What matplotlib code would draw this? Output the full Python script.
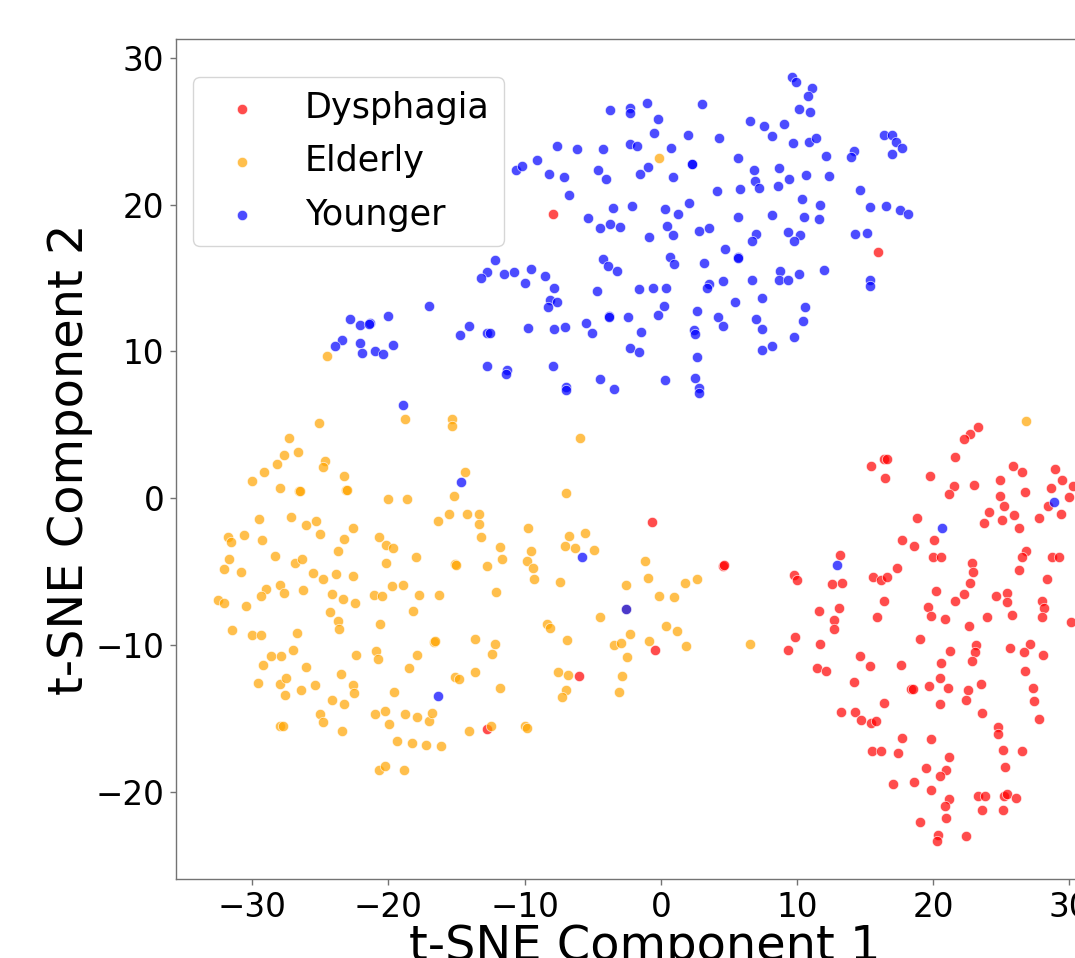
import matplotlib
matplotlib.use("Agg")
import matplotlib.pyplot as plt
import numpy as np

# ---------------- data (t-SNE coordinates) ----------------
dys_x = [-7.95, 15.93, -0.66, 4.55, 4.65, -0.42, -6.00, -12.80,
         23.32, 22.69, 22.22, 21.63, 15.44, 16.37, 16.62, 16.45, 19.75, 21.49, 21.12, 23.01,
         25.84, 26.51, 24.87, 28.95, 29.47, 30.25, 28.61, 26.75, 24.87, 25.18, 30.00, 28.41,
         29.37, 18.82, 24.08, 25.94, 23.69, 25.06, 26.26, 27.73, 17.74, 18.58, 20.09, 19.97,
         20.58, 13.17, 26.82, 26.53, 28.73, 29.20, 26.26, 28.34, 22.86, 22.91, 22.66, 22.27,
         21.63, 20.17, 19.63, 19.80, 20.88, 22.59, 23.91, 25.80, 9.79, 10.01, 12.56, 13.29,
         15.54, 16.13, 16.62, 17.35, 24.62, 25.40, 25.40, 27.97, 28.12, 28.00, 30.13, 11.58,
         13.07, 12.68, 12.70, 16.40, 15.88,
         9.86, 9.35, 11.67, 19.02, 23.15, 23.08, 21.22, 20.58, 22.83, 25.67, 27.09, 26.68,
         28.02, 26.73, 14.59, 15.37, 17.65, 11.45, 12.09, 14.17, 20.48, 19.70, 21.05, 18.33,
         18.53, 22.54, 23.52, 22.39, 27.31, 27.41, 27.75, 20.48, 16.35, 13.19, 14.27, 14.66,
         15.44, 15.83, 23.57, 24.77, 24.77, 17.74, 19.82, 15.49, 16.18, 17.43, 25.13, 26.55,
         21.15, 19.43, 20.93, 20.53, 25.28, 17.01, 18.58, 19.82, 21.15, 20.83, 23.32, 23.81,
         25.16, 25.38, 26.06, 23.57, 25.09, 20.93, 19.04, 20.36, 20.31, 22.37]
dys_y = [19.34, 16.75, -1.64, -4.59, -4.55, -10.32, -12.11, -15.75,
         4.86, 4.39, 4.02, 2.79, 2.20, 2.70, 2.68, 1.36, 1.52, 0.80, 0.27, 0.89,
         2.16, 1.80, 1.27, 2.00, 1.27, 0.84, 0.70, 0.41, 0.14, -0.50, 0.05, -0.52,
         -1.11, -1.34, -0.91, -1.18, -1.70, -1.52, -2.05, -1.34, -2.84, -3.29, -2.82, -4.04,
         -4.02, -3.89, -3.59, -4.00, -3.98, -4.02, -4.91, -5.50, -4.39, -5.04, -5.77, -6.52,
         -7.02, -6.32, -7.43, -8.02, -8.25, -8.70, -8.13, -7.98, -5.25, -5.59, -5.82, -5.79,
         -5.36, -5.57, -5.39, -4.73, -6.70, -6.45, -7.07, -7.04, -7.50, -8.13, -8.45, -7.66,
         -7.50, -8.32, -8.95, -7.04, -8.13,
         -9.43, -10.38, -9.95, -9.63, -10.02, -10.47, -10.41, -11.22, -11.11, -10.20, -9.93, -10.47,
         -10.70, -11.79, -10.75, -11.41, -11.38, -11.57, -11.79, -12.52, -12.27, -12.79, -12.93, -13.00,
         -13.00, -13.11, -12.66, -13.77, -12.91, -13.86, -15.02, -14.04, -13.97, -14.56, -14.59, -15.11,
         -15.34, -15.16, -14.63, -15.59, -16.09, -16.36, -16.41, -17.25, -17.22, -17.36, -17.18, -17.22,
         -17.61, -18.36, -18.52, -18.93, -18.34, -19.47, -19.34, -19.90, -20.50, -20.97, -20.31, -20.31,
         -20.29, -20.15, -20.45, -21.29, -21.25, -21.81, -22.06, -22.95, -23.36, -23.06]

eld_x = [-24.55, -0.12, 26.80, -2.57,
         -18.82, -25.09, -27.29, -26.65, -27.66, -28.17, -29.15, -30.00, -24.65, -24.79, -23.25,
         -27.95, -26.55, -26.46, -23.15, -23.05, -20.02, -18.67, -29.49, -27.17, -26.09, -25.33,
         -25.01, -22.61, -23.25, -23.67, -31.77, -31.57, -30.59, -29.30, -20.71, -20.19, -19.65,
         -20.17, -18.01, -16.40, -15.52, -31.69, -32.09, -30.84, -28.34, -26.87, -26.33, -25.55,
         -24.82, -23.86, -22.64, -28.98, -29.34, -28.00, -27.70, -26.26, -24.13, -23.35, -22.47,
         -21.05, -20.46, -19.75, -18.92, -17.77, -16.32, -18.18, -32.55, -32.09, -30.45, -24.30,
         -23.67, -23.62, -20.61, -31.52, -30.00, -29.34, -26.75, -26.99, -28.59, -27.92, -29.20,
         -26.04, -22.37, -20.95, -20.78, -17.89, -16.69, -16.62, -18.50, -29.59, -27.95, -27.56,
         -27.63, -26.41, -25.38, -23.52, -22.64, -22.54, -24.16, -23.25, -19.58, -25.01, -24.79,
         -27.95, -27.73, -23.42, -21.02, -20.24, -19.95, -18.77, -17.94, -17.01, -16.79, -19.41,
         -18.26, -17.28, -16.18, -20.71, -20.22, -18.87,
         -15.30, -15.30, -5.95, -14.37, -15.20, -6.98, -14.27, -13.34, -13.36, -13.17, -9.77,
         -11.82, -11.70, -9.52, -9.81, -9.37, -9.28, -12.73, -15.12, -15.05, -12.11, -6.75,
         -5.58, -7.02, -6.27, -4.92, -7.39, -1.13, -0.98, -2.59, -0.17, 0.93, 1.76, 2.64,
         -4.50, -8.37, -8.17, -6.88, -2.28, -3.45, -2.96, -0.86, 0.34, 1.17, 1.81, -2.52,
         6.58, -13.66, -12.21, -12.43, -13.66, -15.12, -14.81, -11.82, -7.54, -6.83, -6.93,
         -7.29, -2.89, -3.08, -14.07, -12.46, -9.99, -9.81]
eld_y = [9.68, 23.18, 5.27, -7.54,
         5.43, 5.09, 4.07, 3.16, 2.91, 2.32, 1.75, 1.14, 2.52, 2.11, 1.48,
         0.70, 0.48, 0.48, 0.55, 0.58, -0.09, -0.09, -1.39, -1.27, -1.84, -1.57,
         -2.45, -2.00, -2.75, -3.57, -2.64, -2.98, -2.48, -2.82, -2.64, -3.20, -3.39,
         -4.43, -4.04, -1.57, -1.11, -4.16, -4.82, -5.00, -3.93, -4.45, -4.14, -5.11,
         -5.52, -5.18, -5.32, -6.16, -6.68, -5.95, -6.45, -6.23, -6.50, -6.88, -7.13,
         -6.61, -6.66, -6.00, -5.89, -6.57, -6.61, -7.70, -6.91, -7.13, -7.32, -7.77,
         -8.38, -8.93, -8.61, -8.98, -9.32, -9.32, -9.16, -10.36, -10.75, -10.77, -11.34,
         -11.52, -10.70, -10.43, -10.93, -10.70, -9.79, -9.76, -11.57, -12.59, -12.70, -12.27,
         -13.41, -13.09, -12.75, -11.98, -12.72, -13.25, -13.77, -14.04, -13.20, -14.70, -15.27,
         -15.52, -15.52, -15.88, -14.68, -14.52, -15.38, -14.68, -14.95, -15.18, -14.63, -16.54,
         -16.72, -16.84, -16.88, -18.50, -18.27, -18.50,
         5.43, 4.89, 4.11, 1.75, 0.14, 0.32, -1.11, -1.11, -1.73, -2.64, -2.05,
         -3.34, -4.16, -3.61, -4.25, -4.73, -5.54, -4.64, -4.50, -4.53, -6.41, -2.57,
         -2.36, -3.25, -3.39, -3.52, -5.70, -4.29, -5.41, -5.89, -6.70, -6.77, -5.75, -5.54,
         -8.13, -8.59, -8.88, -9.68, -9.25, -10.00, -9.86, -9.77, -8.70, -9.07, -10.07, -10.82,
         -9.97, -9.63, -9.93, -10.63, -11.88, -12.22, -12.34, -12.91, -11.88, -12.07, -13.09,
         -13.54, -12.13, -13.20, -15.86, -15.56, -15.54, -15.70]

you_x = [-7.66, -6.14, -10.60, -10.18, -9.08, -8.20, -7.10, -6.78, -5.34, -12.16, -12.73,
         -13.22, -11.53, -10.79, -9.57, -8.54, -9.99, -7.86, -8.15, -7.59, -8.32, -17.06,
         -22.79, -22.12, -21.37, -21.44, -20.04, -23.40, -23.89, -22.12, -21.93, -21.00, -20.39,
         -19.70, -14.12, -14.73, -12.75, -12.56, -9.72, -7.81, -7.02, -5.51, -12.78, -11.31,
         -11.38, -7.95, -6.98, -6.98, -18.92,
         9.64, 9.89, 11.06, 10.82, 10.13, 10.94, -3.70, -2.28, -2.28, -1.05, -0.20, 2.99,
         6.53, 7.56, 9.06, 8.13, 9.72, 10.87, 11.36, -0.47, 1.98, 4.28, -4.23, -2.28, -1.74,
         0.78, 2.25, 2.27, 5.68, 12.11, 14.17, 13.95, 16.37, 16.98, 17.30, 17.72, 16.96, -4.60,
         -4.04, -1.54, -0.93, 0.86, 6.85, 8.66, 9.40, 10.65, 12.31, 6.88, 7.22, 8.61, 5.82,
         4.14, 14.61, -3.55, -2.10, 0.32, 1.25, 2.08, 5.63, 8.13, 10.35, 10.52, 11.65, 11.63,
         15.39, 16.54, 17.57, 18.18, -4.48, -3.74, -3.01, -0.86, 0.47, 0.91, 2.81, 3.52, 6.98,
         6.71, 9.32, 10.18, 9.81, 14.22, 15.15, -4.28, -3.87, -3.21, 0.66, 1.00, 3.16, 4.72,
         5.63, 5.65, 8.74, 10.11, 11.99, 8.64, 9.32, 6.66, 4.58, 3.55, 3.40, 15.35, 15.35,
         -4.72, -1.59, -0.61, 0.34, 0.24, -0.24, -3.79, -3.84, -2.42, 2.62, 5.43, 7.44, 10.60,
         10.45, 4.23, 4.53, 7.02, 7.44, -5.02, -1.49, 2.45, 2.50, -2.25, -1.62, 2.67, 7.46,
         8.13, 9.77, -4.50, -3.45, 0.29, 2.52, 2.79, 2.79,
         -16.40, -14.68, -5.80, -2.57, 28.85, 20.66, 12.95]
you_y = [24.02, 23.79, 22.36, 22.63, 23.04, 22.13, 21.90, 20.68, 19.13, 16.22, 15.41,
         15.02, 15.31, 15.41, 15.59, 15.13, 14.68, 14.36, 13.50, 13.36, 13.04, 13.13,
         12.18, 11.79, 11.91, 11.86, 12.45, 10.77, 10.34, 10.61, 9.91, 10.04, 9.86,
         10.45, 11.75, 11.11, 11.27, 11.27, 11.59, 11.54, 11.68, 11.97, 8.98, 8.75,
         8.45, 9.04, 7.59, 7.36, 6.34,
         28.72, 28.38, 27.93, 27.40, 26.54, 26.29, 26.45, 26.61, 26.27, 26.97, 25.88, 26.90,
         25.72, 25.38, 25.52, 24.70, 24.22, 24.25, 24.52, 24.90, 24.79, 24.56, 23.79, 24.13, 23.99,
         23.84, 22.81, 22.78, 23.20, 23.31, 23.68, 23.29, 24.79, 24.77, 24.25, 23.84, 23.49, 22.36,
         21.75, 22.09, 22.59, 21.88, 22.40, 22.54, 21.77, 22.06, 21.97, 21.61, 21.15, 21.29, 21.06,
         20.93, 21.04, 19.81, 19.90, 19.70, 19.38, 20.09, 19.18, 19.31, 20.40, 19.18, 20.00, 19.04,
         19.86, 19.95, 19.65, 19.38, 18.43, 18.70, 18.50, 17.79, 18.54, 17.93, 18.18, 18.45, 18.02,
         17.56, 18.13, 17.97, 17.52, 18.02, 18.09, 16.31, 15.81, 15.50, 16.47, 15.97, 16.04, 16.97,
         16.43, 16.36, 15.47, 15.25, 15.54, 14.84, 14.86, 14.86, 14.77, 14.63, 14.36, 14.84, 14.45,
         14.13, 14.29, 14.36, 14.36, 13.09, 12.52, 12.43, 12.38, 12.32, 12.79, 13.36, 13.66, 13.04,
         12.09, 12.36, 11.75, 12.18, 11.52, 11.27, 11.32, 11.48, 11.16, 10.27, 9.93, 9.59, 10.07,
         10.36, 10.97, 8.13, 7.43, 8.04, 8.20, 7.48, 7.20,
         -13.47, 1.11, -3.98, -7.54, -0.27, -2.02, -4.54]

groups = ["Dysphagia", "Elderly", "Younger"]
colors = ["red", "orange", "blue"]

# ---------------- figure ----------------
W, H = 1075, 958
fig = plt.figure(figsize=(W / 100, H / 100), dpi=100)
ax_left, ax_bottom, ax_top = 176, 879, 39
x_min, x_max = -35.6, 33.3
y_min, y_max = -25.96, 31.3
px_per_x = 13.62
ax_w = (x_max - x_min) * px_per_x
ax = fig.add_axes([ax_left / W, (H - ax_bottom) / H, ax_w / W, (ax_bottom - ax_top) / H])

for name, col, xs, ys in zip(groups, colors, [dys_x, eld_x, you_x], [dys_y, eld_y, you_y]):
    ax.scatter(xs, ys, s=55, c=col, alpha=0.7, edgecolors="white", linewidths=0.6, label=name)

ax.set_xlim(x_min, x_max)
ax.set_ylim(y_min, y_max)
ax.set_xticks([-30, -20, -10, 0, 10, 20, 30])
ax.set_yticks([-20, -10, 0, 10, 20, 30])

for sp in ax.spines.values():
    sp.set_color("0.45")
    sp.set_linewidth(1.0)
ax.tick_params(axis="both", labelsize=23.5, length=4.5, width=1.0, color="0.45", pad=4)

ax.set_xlabel("t-SNE Component 1", fontsize=34.5)
ax.set_ylabel("t-SNE Component 2", fontsize=34.5)
ax.xaxis.set_label_coords(0.5, -0.052)
ax.yaxis.set_label_coords(-0.0885, 0.5)

ax_h = ax_bottom - ax_top
leg = ax.legend(loc="upper left", bbox_to_anchor=((193 - ax_left) / ax_w, (ax_bottom - 77) / ax_h),
                borderaxespad=0, fontsize=25.2, labelspacing=0.55, scatterpoints=1)

fig.savefig("out.png", dpi=100)
